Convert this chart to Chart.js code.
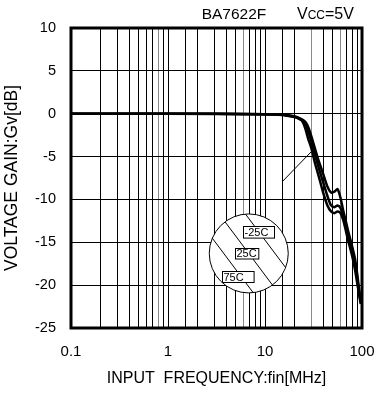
<!doctype html>
<html lang="en">
<head>
<meta charset="UTF-8">
<title>BA7622F voltage gain vs frequency</title>
<script src="https://cdn.jsdelivr.net/npm/chart.js@4/dist/chart.umd.min.js"></script>
<style>
  html, body { margin: 0; padding: 0; background: #fff; }
</style>
</head>
<body>
<canvas id="chart" width="377" height="394"></canvas>
<script>
// input frequency [MHz], shared by the three temperature curves
const freqMHz = [0.1, 1, 10, 15, 20, 22, 24, 26, 28, 30, 33, 36, 40, 44, 48, 52, 56, 60, 64, 68, 72, 76, 80, 85, 90, 94, 97];

// voltage gain Gv [dB]
const gainMinus25C = [0, 0, -0.05, -0.1, -0.3, -0.45, -0.65, -0.95, -1.6, -2.6, -4.2, -5.6, -7.1, -8.5, -9.2, -9.1, -8.8, -9.8, -11.3, -12.5, -13.7, -14.7, -15.7, -17.0, -19.0, -20.8, -21.8];
const gain25C      = [0, 0, -0.05, -0.12, -0.35, -0.5, -0.75, -1.2, -2.1, -3.2, -4.9, -6.4, -8.1, -9.6, -10.7, -10.9, -10.7, -11.0, -12.0, -13.2, -14.3, -15.3, -16.3, -17.8, -19.5, -21.0, -22.0];
const gain75C      = [0, 0, -0.05, -0.15, -0.4, -0.55, -0.8, -1.7, -3.0, -4.0, -5.9, -7.4, -9.3, -10.7, -11.4, -11.6, -11.4, -11.6, -12.4, -13.6, -14.8, -15.8, -16.8, -18.3, -20.0, -21.3, -22.2];

const tempLabels = ['-25C', '25C', '75C'];
const xTickLabels = [0.1, 1, 10, 100];
const yTicks = [10, 5, 0, -5, -10, -15, -20, -25];

// legend bubble and its pointer, in data coordinates
const bubbleAt = [6.8, -16.3];
const pointerFrom = [15.3, -7.85];
const pointerTo = [29.8, -4.47];

// a few of the minor grid lines print lighter
const greyLines = [0.8, 6, 30, 60];

const FONT = "'Liberation Sans', Arial, sans-serif";
Chart.defaults.font.family = FONT;
Chart.defaults.font.size = 15;
Chart.defaults.color = '#000';

function pts(ys) {
  return freqMHz.map((f, i) => ({ x: f, y: ys[i] }));
}
function near(v, list) {
  return list.some(t => Math.abs(Math.log10(v) - Math.log10(t)) < 1e-4);
}

const overlay = {
  id: 'overlay',
  afterDatasetsDraw(chart) {
    const { ctx, chartArea: a, scales: { x, y } } = chart;
    ctx.save();

    // pointer line
    ctx.strokeStyle = '#000';
    ctx.lineWidth = 1;
    ctx.beginPath();
    ctx.moveTo(x.getPixelForValue(pointerFrom[0]), y.getPixelForValue(pointerFrom[1]));
    ctx.lineTo(x.getPixelForValue(pointerTo[0]), y.getPixelForValue(pointerTo[1]));
    ctx.stroke();

    // bubble with diagonal strokes
    const cx = x.getPixelForValue(bubbleAt[0]);
    const cy = y.getPixelForValue(bubbleAt[1]);
    const r = 39.5;
    ctx.beginPath();
    ctx.arc(cx, cy, r, 0, Math.PI * 2);
    ctx.fillStyle = '#fff';
    ctx.fill();
    ctx.stroke();
    ctx.save();
    ctx.clip();
    const dx = 0.6, dy = 0.8, nx = 0.8, ny = -0.6;
    [-20, 0, 21].forEach(off => {
      const px = cx + nx * off, py = cy + ny * off;
      ctx.beginPath();
      ctx.moveTo(px - dx * 60, py - dy * 60);
      ctx.lineTo(px + dx * 60, py + dy * 60);
      ctx.stroke();
    });
    ctx.restore();

    // boxed temperature labels
    const boxes = [[-6, -27.6, 31, 11.6], [-13.7, -5, 23.3, 10.5], [-27, 17.4, 31.6, 11]];
    ctx.font = '11px ' + FONT;
    ctx.textBaseline = 'middle';
    ctx.textAlign = 'left';
    boxes.forEach((b, i) => {
      const bx = Math.round(cx + b[0]) + 0.5, by = Math.round(cy + b[1]) + 0.5;
      ctx.fillStyle = '#fff';
      ctx.fillRect(bx, by, b[2], b[3]);
      ctx.strokeRect(bx, by, b[2], b[3]);
      ctx.fillStyle = '#000';
      ctx.fillText(tempLabels[i], bx + 1, by + b[3] / 2 + 0.5);
    });

    // plot frame
    ctx.lineWidth = 3;
    ctx.strokeRect(a.left, a.top, a.right - a.left, a.bottom - a.top);

    // header
    ctx.textBaseline = 'alphabetic';
    ctx.font = '15.5px ' + FONT;
    ctx.textAlign = 'center';
    ctx.fillText('BA7622F', 234, 19);
    ctx.textAlign = 'left';
    let hx = 297;
    ctx.font = '16px ' + FONT;
    ctx.fillText('V', hx, 19);
    hx += ctx.measureText('V').width;
    ctx.font = '12px ' + FONT;
    ctx.fillText('CC', hx, 19);
    hx += ctx.measureText('CC').width;
    ctx.font = '16px ' + FONT;
    ctx.fillText('=5V', hx, 19);

    ctx.restore();
  }
};

const line = { borderColor: '#000', borderWidth: 2.5, pointRadius: 0, tension: 0.25, fill: false };

new Chart(document.getElementById('chart'), {
  type: 'line',
  data: {
    datasets: [
      { label: tempLabels[0], data: pts(gainMinus25C), ...line },
      { label: tempLabels[1], data: pts(gain25C), ...line },
      { label: tempLabels[2], data: pts(gain75C), ...line }
    ]
  },
  options: {
    responsive: false,
    animation: false,
    layout: { padding: { top: 28, right: 15, left: 0, bottom: 0 } },
    plugins: { legend: { display: false }, tooltip: { enabled: false } },
    scales: {
      x: {
        type: 'logarithmic',
        min: 0.1,
        max: 100,
        afterFit: s => { s.height = 66; s.paddingLeft = 0; s.paddingRight = 0; },
        border: { display: false },
        grid: {
          drawTicks: false,
          lineWidth: 1,
          color: c => near(c.tick.value, greyLines) ? '#8a8a8a' : '#000'
        },
        ticks: {
          autoSkip: false,
          maxRotation: 0,
          padding: 15,
          callback: v => near(v, xTickLabels) ? String(+v.toPrecision(3)) : ''
        },
        title: { display: true, text: 'INPUT  FREQUENCY:fin[MHz]', font: { size: 16 }, padding: { top: 0, bottom: 6 } }
      },
      y: {
        min: -25,
        max: 10,
        afterFit: s => { s.width = 71; s.paddingTop = 0; s.paddingBottom = 0; },
        afterBuildTicks: s => { s.ticks = yTicks.map(v => ({ value: v })); },
        border: { display: false },
        grid: { drawTicks: false, lineWidth: 1, color: '#000' },
        ticks: { padding: 15, font: { size: 14.5 } },
        title: { display: true, text: 'VOLTAGE GAIN:Gv[dB]', font: { size: 17.5 }, padding: { top: 2, bottom: 0 } }
      }
    }
  },
  plugins: [overlay]
});
</script>
</body>
</html>
